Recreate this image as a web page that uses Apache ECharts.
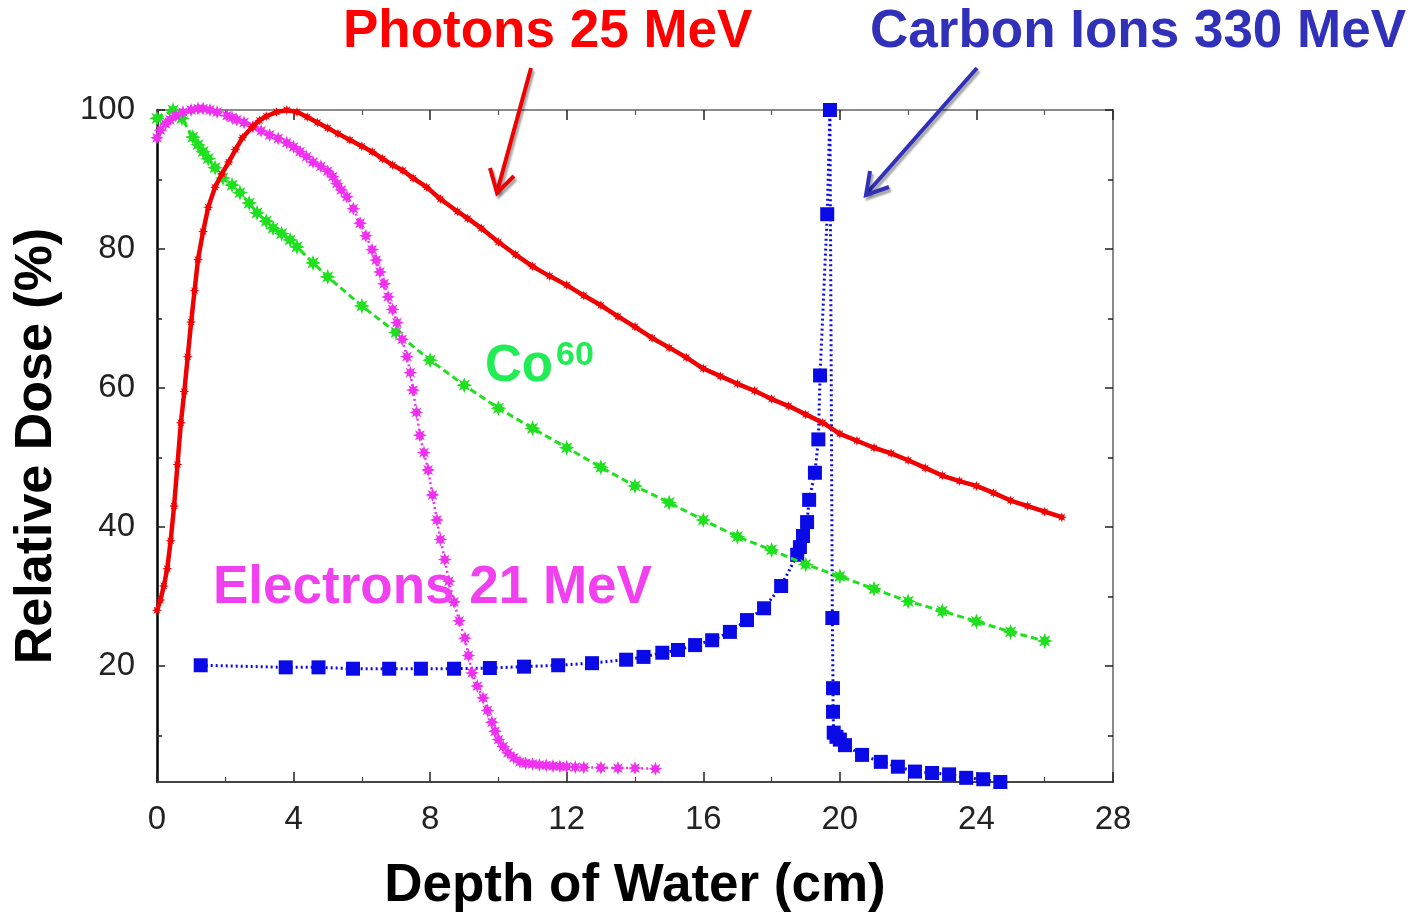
<!DOCTYPE html>
<html>
<head>
<meta charset="utf-8">
<script src="https://cdn.jsdelivr.net/npm/echarts@6/dist/echarts.min.js"></script>
<style>html,body{margin:0;padding:0;background:#fff}#c{width:1410px;height:914px}</style>
</head>
<body>
<div id="c"></div>
<script>
// ---- data (depth in cm, relative dose in %) ----
var photons = [
 [0,28],[0.1,29.5],[0.2,31.5],[0.3,34],[0.4,38],[0.5,43],[0.6,49],[0.7,55],[0.8,59.5],[0.9,64.5],
 [1.0,69.5],[1.1,74],[1.2,78.5],[1.35,82.5],[1.5,86],[1.7,88.9],[1.9,90.8],[2.1,92.5],[2.3,94.3],[2.5,96],
 [2.8,97.6],[3.0,98.5],[3.2,99.1],[3.5,99.7],[3.8,100],[4.1,99.7],[4.4,99],[4.7,98.2],[5.0,97.4],[5.3,96.6],
 [5.65,95.7],[6.0,94.8],[6.3,94],[6.6,93],[6.9,92.1],[7.2,91.3],[7.5,90.2],[7.9,88.9],[8.3,87.2],[8.8,85.4],
 [9.1,84.4],[9.5,83],[10.0,81],[10.5,79.2],[11.0,77.5],[11.5,76.1],[12.0,74.8],[12.5,73.3],[13.0,71.9],[13.5,70.3],
 [14.0,68.8],[14.5,67.2],[15.0,65.8],[15.5,64.4],[16.0,62.8],[16.5,61.7],[17.0,60.6],[17.5,59.6],[18.0,58.4],[18.5,57.4],
 [19.0,56.2],[19.5,55],[20.0,53.4],[20.5,52.4],[21.0,51.4],[21.5,50.6],[22.0,49.6],[22.5,48.5],[23.0,47.4],[23.5,46.6],
 [24.0,45.9],[24.5,44.9],[25.0,43.8],[25.5,43],[26.0,42.2],[26.5,41.4]
];
var cobalt60 = [
 [0,98.8],[0.47,100],[0.73,98.8],[1.05,96.1],[1.2,95],[1.35,94],[1.5,93],[1.7,91.7],[1.93,90.2],[2.2,89.2],[2.43,88.1],
 [2.7,86.6],[2.93,85.2],[3.2,84],[3.4,83],[3.65,82.2],[3.9,81.3],[4.1,80.3],[4.57,78],[5.0,76],[6.0,71.8],[7.0,68],
 [8.0,64],[9.0,60.4],[10.0,57.1],[11.0,54.2],[12.0,51.4],[13.0,48.6],[14.0,45.9],[15.0,43.5],[16.0,41],[17.0,38.6],
 [18.0,36.7],[19.0,34.6],[20.0,32.9],[21.0,31.1],[22.0,29.3],[23.0,27.9],[24.0,26.4],[25.0,24.9],[26.0,23.6]
];
var electrons = [
 [0,96],[0.1,97.1],[0.25,98],[0.38,98.6],[0.55,99.2],[0.76,99.7],[1.0,100],[1.2,100.2],[1.35,100.2],[1.55,100],
 [1.76,99.7],[2.05,99.2],[2.2,98.9],[2.34,98.6],[2.55,98.2],[2.81,97.6],[3.05,97],[3.3,96.4],[3.55,95.9],[3.8,95.3],
 [4.0,94.7],[4.19,94],[4.38,93.3],[4.57,92.5],[4.8,91.9],[5.0,91.2],[5.15,90.4],[5.27,89.4],[5.4,88.5],[5.56,87.5],
 [5.75,85.8],[5.95,83.7],[6.12,81.9],[6.3,79.9],[6.42,78.4],[6.53,76.7],[6.65,75],[6.77,73.1],[6.9,71.3],[7.03,69.4],
 [7.18,67],[7.32,64.5],[7.42,62.2],[7.5,59.7],[7.6,56.5],[7.7,53.2],[7.82,50.7],[7.94,48.2],[8.07,44.6],[8.2,41],
 [8.3,38.2],[8.43,35.3],[8.55,32.2],[8.7,29.2],[8.85,26.5],[9.02,24],[9.12,21.5],[9.23,19],[9.38,17.1],[9.55,15.4],
 [9.68,13.6],[9.81,11.9],[9.9,10.6],[10.0,9.4],[10.14,8.4],[10.28,7.5],[10.45,6.8],[10.63,6.2],[10.8,6],[11.0,5.9],
 [11.2,5.75],[11.4,5.7],[11.6,5.6],[11.8,5.55],[12.0,5.5],[12.25,5.45],[12.5,5.4],[13.0,5.35],[13.5,5.3],[14.0,5.3],[14.6,5.2]
];
var carbon = [
 [1.28,20.1],[3.77,19.8],[4.73,19.8],[5.74,19.6],[6.8,19.6],[7.73,19.6],[8.7,19.6],[9.75,19.7],[10.75,19.9],[11.75,20.1],
 [12.74,20.4],[13.74,20.9],[14.25,21.3],[14.8,21.9],[15.26,22.3],[15.76,23],[16.26,23.7],[16.78,24.9],[17.28,26.6],[17.78,28.3],
 [18.28,31.5],[18.75,36],[18.83,37.1],[18.92,38.7],[19.04,40.7],[19.1,43.9],[19.27,47.8],[19.37,52.6],[19.42,61.8],[19.63,85],
 [19.71,100],[19.78,26.9],[19.8,16.8],[19.8,13.4],[19.82,10.4],[19.9,9.8],[20.0,9.4],[20.15,8.6],[20.65,7.2],[21.2,6.2],
 [21.7,5.5],[22.2,4.8],[22.7,4.6],[23.2,4.4],[23.7,3.9],[24.2,3.7],[24.7,3.3]
];
var yMajorTicks = [20, 40, 60, 80, 100];
var yMinorTicks = [10, 30, 50, 70, 90];
var xMin = 0, xMax = 28, xStep = 4;
var yMin = 3.3, yMax = 100;

var FONT = '"Liberation Sans", Arial, Helvetica, sans-serif';
var STAR = 'path://M0,-10L2,-4.5L7,-7L4.5,-2L10,0L4.5,2L7,7L2,4.5L0,10L-2,4.5L-7,7L-4.5,2L-10,0L-4.5,-2L-7,-7L-2,-4.5Z';

function yAx(pos, ticks, labels, lineColor, tickLen, showLine) {
  return {
    type: 'value', min: yMin, max: yMax, position: pos,
    axisLine: {show: showLine, lineStyle: {color: lineColor, width: pos === 'left' ? 2.5 : 2}},
    axisTick: {show: true, inside: true, length: tickLen, customValues: ticks, lineStyle: {color: '#222', width: 1.5}},
    axisLabel: labels ? {show: true, customValues: labels, fontSize: 33, color: '#222', fontFamily: FONT, margin: 22} : {show: false},
    splitLine: {show: false}
  };
}

var chart = echarts.init(document.getElementById('c'), null, {renderer: 'canvas'});
var option = {
  animation: false,
  backgroundColor: '#ffffff',
  grid: {left: 157, top: 110, right: 297, bottom: 132, containLabel: false, outerBoundsMode: 'none'},
  xAxis: [
    {
      type: 'value', min: xMin, max: xMax, interval: xStep, position: 'bottom',
      name: 'Depth of Water (cm)', nameLocation: 'middle', nameGap: 78,
      nameTextStyle: {fontSize: 53, fontWeight: 'bold', color: '#000', fontFamily: FONT},
      axisLine: {lineStyle: {color: '#444', width: 2}},
      axisTick: {inside: true, length: 10, lineStyle: {color: '#222', width: 1.5}},
      minorTick: {show: true, splitNumber: 2, length: 5, lineStyle: {color: '#444', width: 1.2}},
      axisLabel: {fontSize: 33, color: '#222', fontFamily: FONT, margin: 21},
      splitLine: {show: false}, minorSplitLine: {show: false}
    },
    {
      type: 'value', min: xMin, max: xMax, interval: xStep, position: 'top',
      axisLine: {show: true, lineStyle: {color: '#8a8a8a', width: 2}},
      axisTick: {inside: true, length: 10, lineStyle: {color: '#222', width: 1.5}},
      minorTick: {show: true, splitNumber: 2, length: 5, lineStyle: {color: '#555', width: 1.2}},
      axisLabel: {show: false}, splitLine: {show: false}
    }
  ],
  yAxis: [
    (function(){ var a = yAx('left', yMajorTicks, yMajorTicks, '#000', 8, true);
      a.name = 'Relative Dose (%)'; a.nameLocation = 'middle'; a.nameGap = 94; a.nameRotate = 90;
      a.nameTextStyle = {fontSize: 52, fontWeight: 'bold', color: '#000', fontFamily: FONT};
      return a; })(),
    yAx('left', yMinorTicks, null, '#000', 5, false),
    yAx('right', yMajorTicks, null, '#8a8a8a', 8, true),
    yAx('right', yMinorTicks, null, '#8a8a8a', 5, false)
  ],
  series: [
    {
      name: 'Carbon Ions 330 MeV', type: 'line', data: carbon, xAxisIndex: 0, yAxisIndex: 0, clip: false,
      symbol: 'rect', symbolSize: 14, showAllSymbol: true,
      lineStyle: {color: '#0a0ae6', width: 3, type: [2, 3]},
      itemStyle: {color: '#0a0ae6'}, z: 2
    },
    {
      name: 'Co60', type: 'line', data: cobalt60, clip: false,
      symbol: STAR, symbolSize: 16, showAllSymbol: true,
      lineStyle: {color: '#1fe01f', width: 3, type: [7, 4]},
      itemStyle: {color: '#1fe01f'}, z: 3
    },
    {
      name: 'Electrons 21 MeV', type: 'line', data: electrons, clip: false,
      symbol: STAR, symbolSize: 14, showAllSymbol: true,
      lineStyle: {color: '#f030f0', width: 2.5, type: [2, 3]},
      itemStyle: {color: '#f030f0'}, z: 4
    },
    {
      name: 'Photons 25 MeV', type: 'line', data: photons, clip: false,
      symbol: STAR, symbolSize: 10, showAllSymbol: true,
      lineStyle: {color: '#f00000', width: 4.5},
      itemStyle: {color: '#f00000'}, z: 5
    }
  ],
  graphic: [
    {type: 'text', z: 100, style: {text: 'Photons 25 MeV', x: 343, y: 32, fill: '#ff0000', textVerticalAlign: 'middle', textAlign: 'left', font: 'bold 53px ' + FONT}},
    {type: 'text', z: 100, style: {text: 'Carbon Ions 330 MeV', x: 870, y: 32, fill: '#3030b8', textVerticalAlign: 'middle', textAlign: 'left', font: 'bold 53px ' + FONT}},
    {type: 'text', z: 100, style: {text: 'Electrons 21 MeV', x: 213, y: 588, fill: '#f040f0', textVerticalAlign: 'middle', textAlign: 'left', font: 'bold 53px ' + FONT}},
    {type: 'text', z: 100, style: {text: 'Co', x: 485, y: 367, fill: '#22ec55', textVerticalAlign: 'middle', textAlign: 'left', font: 'bold 51px ' + FONT}},
    {type: 'text', z: 100, style: {text: '60', x: 556, y: 356, fill: '#22ec55', textVerticalAlign: 'middle', textAlign: 'left', font: 'bold 34px ' + FONT}},
    // red arrow
    {type: 'line', z: 100, shape: {x1: 531, y1: 68, x2: 497, y2: 192},
     style: {stroke: '#f00000', lineWidth: 4, shadowColor: 'rgba(0,0,0,0.35)', shadowBlur: 2, shadowOffsetX: 2, shadowOffsetY: 3}},
    {type: 'polyline', z: 100, shape: {points: [[490, 168], [497, 193], [514, 176]]},
     style: {stroke: '#f00000', fill: null, lineWidth: 4, lineJoin: 'miter', shadowColor: 'rgba(0,0,0,0.35)', shadowBlur: 2, shadowOffsetX: 2, shadowOffsetY: 3}},
    // blue arrow
    {type: 'line', z: 100, shape: {x1: 977, y1: 68, x2: 867, y2: 193},
     style: {stroke: '#3030b8', lineWidth: 4, shadowColor: 'rgba(0,0,0,0.35)', shadowBlur: 2, shadowOffsetX: 2, shadowOffsetY: 3}},
    {type: 'polyline', z: 100, shape: {points: [[870, 171], [866, 195], [889, 187]]},
     style: {stroke: '#3030b8', fill: null, lineWidth: 4, lineJoin: 'miter', shadowColor: 'rgba(0,0,0,0.35)', shadowBlur: 2, shadowOffsetX: 2, shadowOffsetY: 3}}
  ]
};
chart.setOption(option);
</script>
</body>
</html>
